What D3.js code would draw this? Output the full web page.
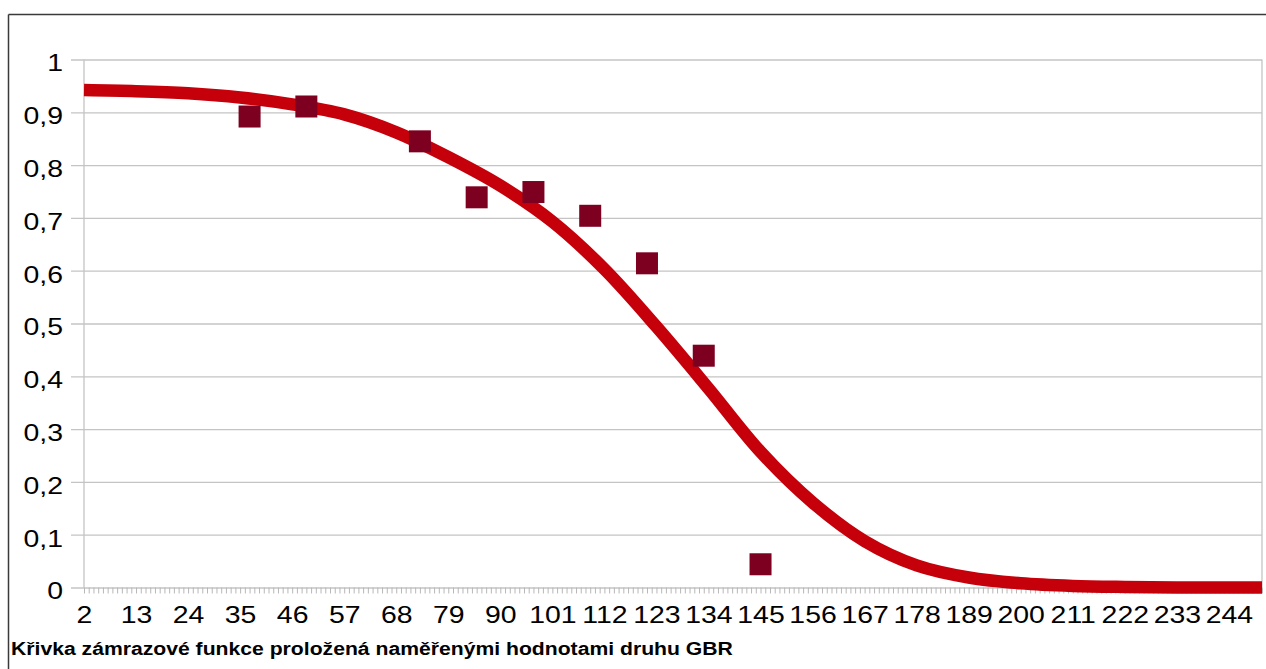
<!DOCTYPE html>
<html>
<head>
<meta charset="utf-8">
<script src="https://cdn.jsdelivr.net/npm/d3@7"></script>
<style>
  html, body { margin: 0; padding: 0; background: #fff; }
  svg { display: block; }
  text { font-family: "Liberation Sans", Arial, sans-serif; }
</style>
</head>
<body>
<svg id="chart" width="1266" height="669"></svg>
<script>
// Fitted freezing curve, sampled along the day axis
const curveX = [2, 13, 24, 35, 46, 57, 68, 79, 90, 101, 112, 123, 134, 145, 156, 167, 178, 189, 200, 211, 222, 233, 244, 251];
const curveY = [0.942, 0.940, 0.936, 0.928, 0.915, 0.896, 0.862, 0.815, 0.761, 0.693, 0.603, 0.494, 0.377, 0.257, 0.161, 0.088, 0.042, 0.019, 0.008, 0.003, 0.001, 0.000, 0.000, 0.000];

// Measured values for GBR
const pointX = [37, 49, 73, 85, 97, 109, 121, 133, 145];
const pointY = [0.892, 0.911, 0.845, 0.739, 0.749, 0.704, 0.614, 0.439, 0.044];

// Category range and axis ticks
const firstCategory = 2;
const lastCategory = 251;
const xLabelValues = [2, 13, 24, 35, 46, 57, 68, 79, 90, 101, 112, 123, 134, 145, 156, 167, 178, 189, 200, 211, 222, 233, 244];
const yTicks = [0, 0.1, 0.2, 0.3, 0.4, 0.5, 0.6, 0.7, 0.8, 0.9, 1];

const title = "Křivka zámrazové funkce proložená naměřenými hodnotami druhu GBR";

const svg = d3.select("#chart");
const plot = { left: 84, right: 1262, top: 59.5, bottom: 587.5 };
const stretch = 1.16; // wide glyph look

const x = d3.scaleLinear().domain([firstCategory, lastCategory]).range([plot.left, plot.right]);
const y = d3.scaleLinear().domain([0, 1]).range([plot.bottom, plot.top]);

const czLocale = d3.formatLocale({ decimal: ",", thousands: " ", grouping: [3], currency: ["", " Kč"] });
const fmt = v => (v === 0 || v === 1) ? String(v) : czLocale.format(".1f")(v);

// Page frame
svg.append("line").attr("x1", 8.5).attr("x2", 1266).attr("y1", 14.5).attr("y2", 14.5)
  .attr("stroke", "#3a3a3a").attr("stroke-width", 1.5);
svg.append("line").attr("x1", 8.5).attr("x2", 8.5).attr("y1", 14.5).attr("y2", 669)
  .attr("stroke", "#3a3a3a").attr("stroke-width", 1.5);

// Horizontal grid + y labels
const yAxis = svg.append("g")
  .attr("transform", `translate(${plot.left},0)`)
  .call(d3.axisLeft(y).tickValues(yTicks).tickSize(0).tickFormat(fmt));
yAxis.select(".domain").remove();
yAxis.selectAll(".tick line")
  .attr("x1", -13).attr("x2", plot.right - plot.left)
  .attr("stroke", "#c4c4c4").attr("stroke-width", 1.3);
yAxis.selectAll(".tick text")
  .attr("x", 0).attr("dy", null).attr("y", 0)
  .attr("font-size", 24.5).attr("fill", "#000")
  .attr("font-family", "Liberation Sans, Arial, sans-serif")
  .attr("text-anchor", "end")
  .attr("transform", `translate(-21,11.4) scale(${stretch},1)`);

// Plot side borders
svg.append("line").attr("x1", plot.left).attr("x2", plot.left).attr("y1", plot.top).attr("y2", plot.bottom)
  .attr("stroke", "#c4c4c4").attr("stroke-width", 1.3);
svg.append("line").attr("x1", plot.right).attr("x2", plot.right).attr("y1", plot.top).attr("y2", plot.bottom)
  .attr("stroke", "#c4c4c4").attr("stroke-width", 1.3);

// Category tick marks on x axis
const xTicks = svg.append("g")
  .attr("transform", `translate(0,${plot.bottom})`)
  .call(d3.axisBottom(x).tickValues(d3.range(firstCategory, lastCategory + 1)).tickSize(6).tickFormat(""));
xTicks.select(".domain").remove();
xTicks.selectAll(".tick line").attr("stroke", "#b8b8b8").attr("stroke-width", 1);

// X labels
const xLabels = svg.append("g")
  .attr("transform", `translate(0,${plot.bottom})`)
  .call(d3.axisBottom(x).tickValues(xLabelValues).tickSize(0).tickFormat(d3.format("d")));
xLabels.select(".domain").remove();
xLabels.selectAll(".tick text")
  .attr("y", 0).attr("dy", null)
  .attr("font-size", 24.5).attr("fill", "#000")
  .attr("font-family", "Liberation Sans, Arial, sans-serif")
  .attr("transform", `translate(0,35.8) scale(${stretch},1)`);

// Fitted curve
const line = d3.line().x((d, i) => x(curveX[i])).y(d => y(d)).curve(d3.curveCatmullRom.alpha(0.5));
svg.append("path")
  .datum(curveY)
  .attr("d", line)
  .attr("fill", "none")
  .attr("stroke", "#c5000b")
  .attr("stroke-width", 12.5)
  .attr("stroke-linejoin", "round");

// Measured points
const sq = 22;
svg.append("g").selectAll("rect")
  .data(pointY)
  .join("rect")
  .attr("x", (d, i) => x(pointX[i]) - sq / 2)
  .attr("y", d => y(d) - sq / 2)
  .attr("width", sq)
  .attr("height", sq)
  .attr("fill", "#7e0021");

// Caption
svg.append("text")
  .attr("transform", "translate(11,655) scale(1.21,1)")
  .attr("font-size", 17.5)
  .attr("font-weight", "bold")
  .attr("fill", "#000")
  .text(title);
</script>
</body>
</html>
